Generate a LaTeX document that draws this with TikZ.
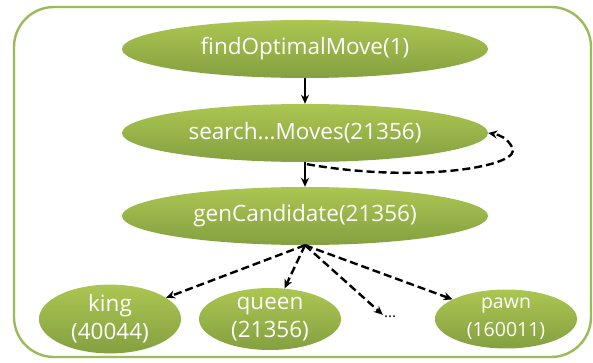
\documentclass[tikz,border=0pt]{standalone}
\usepackage{fontspec}
\setmainfont{Open Sans}
\usetikzlibrary{shapes.geometric,arrows.meta}
\definecolor{frameg}{RGB}{155,187,89}
\definecolor{topg}{RGB}{172,198,82}
\definecolor{botg}{RGB}{132,160,64}
\tikzset{
  bubble/.style={ellipse, inner sep=0pt, top color=topg, bottom color=botg, draw=none,
    text=white, font=\fontsize{22.5}{28}\selectfont, align=center},
  bigbubble/.style={bubble, minimum width=366pt, minimum height=58pt},
  smallbubble/.style={bubble, minimum width=142pt, minimum height=57pt},
  solidarrow/.style={-{Stealth[length=9pt,width=8pt]}, line width=2.4pt},
  dasharrow/.style={-{Stealth[length=9pt,width=8pt]}, line width=2.4pt, dash pattern=on 8pt off 4pt},
}
\begin{document}
\begin{tikzpicture}[x=1pt,y=-1pt]
\useasboundingbox (0,0) rectangle (593,363);
\draw[frameg, line width=2.4pt, rounded corners=40pt] (14,7) rectangle (591,357);
\node[bigbubble] (find) at (305,49) {findOptimalMove(1)};
\node[bigbubble] (search) at (305,133) {search...Moves(21356)};
\node[bigbubble] (gen) at (305,216) {genCandidate(21356)};
\node[smallbubble] (king) at (110,319) {king\\(40044)};
\node[smallbubble] (queen) at (270,319) {queen\\(21356)};
\node[smallbubble, font=\fontsize{19.5}{28}\selectfont] (pawn) at (506,319) {pawn\\(160011)};
\node[text=black, font=\fontsize{15}{16}\selectfont, inner sep=1pt] (dots) at (390,317) {...};
\draw[solidarrow] (find.south) -- (search.north);
\draw[solidarrow] (search.south) -- (gen.north);
\draw[dasharrow] (search.south) ++(2,2) .. controls (420,184) and (525,166) .. (512,147)
  .. controls (507,138) and (500,135) .. (search.east);
\draw[dasharrow] (gen.south) -- (king);
\draw[dasharrow] (gen.south) -- (queen);
\draw[dasharrow] (gen.south) -- (dots.north west);
\draw[dasharrow] (gen.south) -- (pawn);
\end{tikzpicture}
\end{document}
